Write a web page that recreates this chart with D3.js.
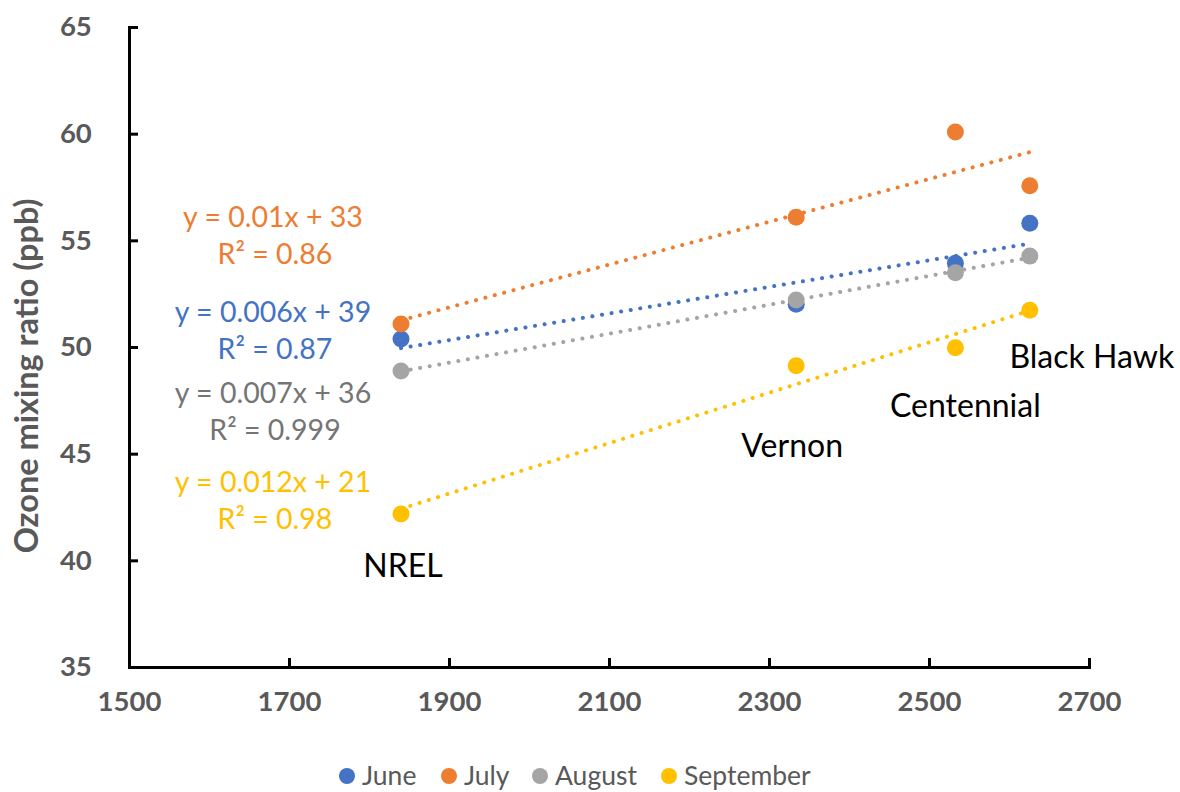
<!DOCTYPE html>
<html>
<head>
  <meta charset="UTF-8">
  <style>
    body {
      margin: 0;
      padding: 0;
      background-color: #ffffff;
      font-family: Lato, "Open Sans", sans-serif;
    }
    svg {
      display: block;
    }
    .tick-label {
      font-weight: bold;
      font-size: 27.5px;
      fill: #595959;
    }
  </style>
</head>
<body>
  <svg></svg>
  <script src="https://d3js.org/d3.v7.min.js"></script>
  <script>
  let width = 1180, height = 792;

  // elevation of each station (m) and the stations names
  const stations = ["NREL", "Vernon", "Centennial", "Black Hawk"];
  const elevation = [1840, 2334, 2533, 2626];

  // monthly mean ozone (ppb) at each station
  const months = ["June", "July", "August", "September"];
  const june = [50.37, 52.0, 53.92, 55.8];
  const july = [51.08, 56.08, 60.08, 57.56];
  const august = [48.87, 52.2, 53.48, 54.26];
  const september = [42.17, 49.12, 49.97, 51.72];
  const colors = ["#4472C4", "#ED7D31", "#A5A5A5", "#FFC000"];

  // trendline labels as they are printed on the chart
  const eqText = ["y = 0.006x + 39", "y = 0.01x + 33", "y = 0.007x + 36", "y = 0.012x + 21"];
  const r2Text = ["R² = 0.87", "R² = 0.86", "R² = 0.999", "R² = 0.98"];
  const eqColors = ["#4472C4", "#ED7D31", "#757575", "#FFC000"];

  const xTicks = [1500, 1700, 1900, 2100, 2300, 2500, 2700];
  const yTicks = [35, 40, 45, 50, 55, 60, 65];

  let svg = d3.select("svg")
      .attr("width", width)
      .attr("height", height);

  let x = d3.scaleLinear().domain([1500, 2700]).range([129, 1089]);
  let y = d3.scaleLinear().domain([35, 65]).range([667, 27]);

  const series = [june, july, august, september].map((vals, i) => ({
      name: months[i],
      color: colors[i],
      points: elevation.map((e, j) => ({ x: e, y: vals[j] }))
  }));

  // least squares fit, like the spreadsheet trendline
  function fit(points) {
      let mx = d3.mean(points, p => p.x), my = d3.mean(points, p => p.y);
      let sxy = d3.sum(points, p => (p.x - mx) * (p.y - my));
      let sxx = d3.sum(points, p => (p.x - mx) * (p.x - mx));
      let b = sxy / sxx;
      return { b: b, a: my - b * mx };
  }

  // axes
  let xAxis = svg.append("g")
      .attr("transform", `translate(0, ${y(35)})`)
      .call(d3.axisBottom(x).tickValues(xTicks).tickSize(-9).tickSizeOuter(-9).tickPadding(24).tickFormat(d3.format("d")));
  let yAxis = svg.append("g")
      .attr("transform", `translate(${x(1500)}, 0)`)
      .call(d3.axisLeft(y).tickValues(yTicks).tickSize(-9).tickSizeOuter(-9).tickPadding(38));

  [xAxis, yAxis].forEach(ax => {
      ax.select(".domain").attr("stroke", "#000").attr("stroke-width", 3);
      ax.selectAll(".tick line").attr("stroke", "#000").attr("stroke-width", 3);
      ax.selectAll(".tick text").attr("class", "tick-label").attr("font-family", null).attr("font-size", null);
      ax.attr("font-family", null).attr("font-size", null);
  });
  yAxis.selectAll(".tick text").attr("text-anchor", "middle").attr("dx", "-0.55em");
  // no tick marks at the corner
  xAxis.selectAll(".tick line").filter(d => d === 1500).remove();
  yAxis.selectAll(".tick line").filter(d => d === 35).remove();

  svg.append("text")
      .attr("transform", `translate(38, 376) rotate(-90)`)
      .attr("text-anchor", "middle")
      .attr("font-weight", "bold")
      .attr("font-size", 32.5)
      .attr("fill", "#595959")
      .text("Ozone mixing ratio (ppb)");

  // trendlines
  series.forEach(s => {
      let f = fit(s.points);
      let x0 = d3.min(elevation), x1 = d3.max(elevation);
      svg.append("line")
          .attr("x1", x(x0)).attr("y1", y(f.a + f.b * x0))
          .attr("x2", x(x1)).attr("y2", y(f.a + f.b * x1))
          .attr("stroke", s.color)
          .attr("stroke-width", 4)
          .attr("stroke-linecap", "round")
          .attr("stroke-dasharray", "0.1 9.6");
  });

  // points
  series.forEach(s => {
      svg.append("g").selectAll("circle")
          .data(s.points)
          .enter()
          .append("circle")
          .attr("cx", d => x(d.x))
          .attr("cy", d => y(d.y))
          .attr("r", 8.5)
          .attr("fill", s.color);
  });

  // station labels, anchored under their elevation
  const labelY = [39.2, 44.84, 46.7, 49.0];
  const labelDx = [2, -4, 10, 62];
  svg.append("g").selectAll("text")
      .data(stations)
      .enter()
      .append("text")
      .attr("x", (d, i) => x(elevation[i]) + labelDx[i])
      .attr("y", (d, i) => y(labelY[i]))
      .attr("text-anchor", "middle")
      .attr("font-size", 32)
      .attr("fill", "#000")
      .text(d => d);

  // trendline equations
  const eqY = [322, 227, 403, 492];
  let eq = svg.append("g");
  eqText.forEach((t, i) => {
      eq.append("text")
          .attr("x", 273).attr("y", eqY[i])
          .attr("text-anchor", "middle")
          .attr("font-size", 28.5)
          .attr("fill", eqColors[i])
          .text(t);
      eq.append("text")
          .attr("x", 275).attr("y", eqY[i] + 37)
          .attr("text-anchor", "middle")
          .attr("font-size", 28.5)
          .attr("fill", eqColors[i])
          .text(r2Text[i]);
  });

  // legend
  const legendX = [347, 449, 540, 669];
  let legend = svg.append("g").attr("id", "legend");
  months.forEach((m, i) => {
      legend.append("circle")
          .attr("cx", legendX[i]).attr("cy", 776)
          .attr("r", 8)
          .attr("fill", colors[i]);
      legend.append("text")
          .attr("x", legendX[i] + 15).attr("y", 785)
          .attr("font-size", 26.5)
          .attr("fill", "#595959")
          .text(m);
  });
  </script>
</body>
</html>
